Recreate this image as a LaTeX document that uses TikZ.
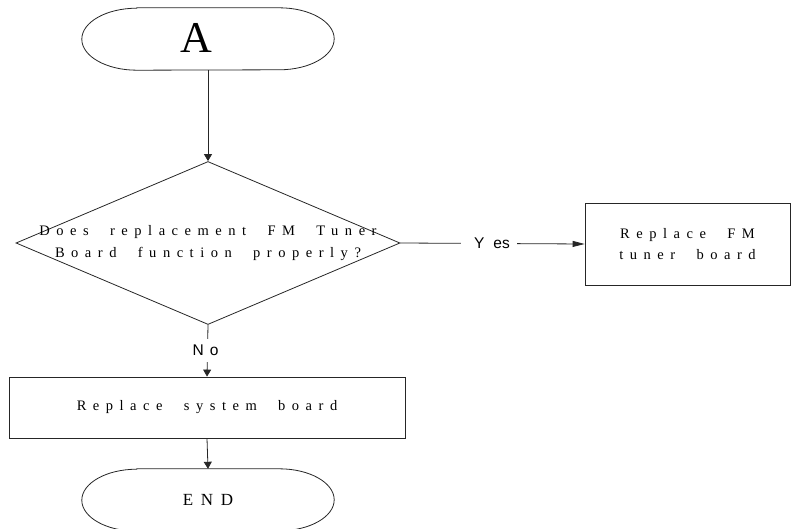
\documentclass[tikz,border=0pt]{standalone}
\usepackage{fontspec}
\setmainfont{Liberation Serif}
\newfontfamily\lsans{Liberation Sans}
\newfontfamily\lserif[LetterSpace=45,WordSpace=2.1]{Liberation Serif}
\usetikzlibrary{shapes.geometric,arrows.meta}
\tikzset{
  line/.style={line width=0.8pt, draw=black!85},
  arr/.style={line, -{Triangle[length=7pt,width=8pt]}},
  harr/.style={line, -{Triangle[length=12pt,width=6pt]}},
  boxnode/.style={draw=black!85, line width=0.8pt, rectangle, inner sep=0pt, align=center,
    font=\lserif\fontsize{14.5}{21}\selectfont},
  lbl/.style={fill=white, inner sep=0pt, font=\lsans\fontsize{15.5}{18}\selectfont},
  term/.style={minimum width=252pt, minimum height=62pt, inner sep=0pt},
  decision/.style={diamond, draw=black!85, line width=0.8pt, minimum width=384pt,
    minimum height=163pt, inner sep=0pt},
}
\begin{document}
\begin{tikzpicture}[x=1pt,y=1pt]
\path[use as bounding box] (0,0) rectangle (792,528);
\clip (0,0) rectangle (792,528);

% start terminal
\node[term, label={[xshift=-12pt, yshift=1pt, font=\lserif\fontsize{44}{50}\selectfont]center:A}] (start) at (208,489) {};
\draw[line] ([xshift=55pt]start.north west) -- ([xshift=-55pt]start.north east)
  arc[start angle=90,end angle=-90,x radius=55pt,y radius=31pt]
  -- ([xshift=55pt]start.south west)
  arc[start angle=270,end angle=90,x radius=55pt,y radius=31pt] -- cycle;

% decision
\node[decision, label={[align=center, font=\lserif\fontsize{14.5}{22}\selectfont]center:{Does replacement FM Tuner\\Board function properly?}}] (d) at (208,285) {};

% right box
\node[boxnode, minimum width=205pt, minimum height=82pt] (r) at (687.5,284) {Replace FM\\tuner board};

% system box
\node[boxnode, minimum width=396pt, minimum height=61pt] (sys) at (207,120.5) {Replace system board};

% end terminal
\node[term, font=\lserif\fontsize{17}{20}\selectfont] (e) at (208,28) {END};
\draw[line] ([xshift=55pt]e.north west) -- ([xshift=-55pt]e.north east)
  arc[start angle=90,end angle=-90,x radius=55pt,y radius=31pt]
  -- ([xshift=55pt]e.south west)
  arc[start angle=270,end angle=90,x radius=55pt,y radius=31pt] -- cycle;

% connectors
\draw[arr] (start.south) -- (d.north);
\draw[harr] (d.east) -- node[lbl, pos=0.481, inner xsep=5pt, inner ysep=3pt] {\hspace*{8pt}Y\hspace{9pt}es\hspace*{2pt}} (r.west);
\draw[arr] (d.south) -- node[lbl, pos=0.49, inner xsep=2pt, inner ysep=6pt, xshift=-2pt] {N\hspace{6pt}o} (sys.north);
\draw[arr] (sys.south) -- (e.north);
\end{tikzpicture}
\end{document}
